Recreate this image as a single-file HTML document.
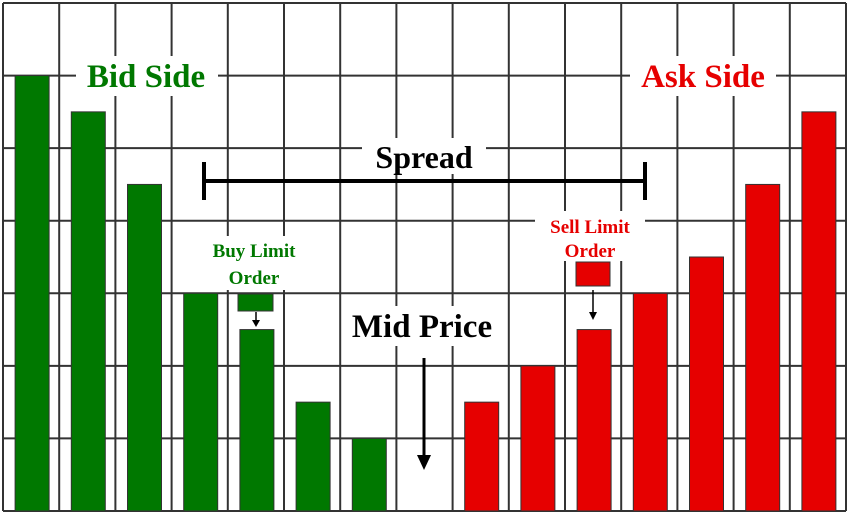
<!DOCTYPE html>
<html><head><meta charset="utf-8"><style>
body{margin:0;background:#fff}
svg{display:block;font-family:"Liberation Serif",serif;font-weight:bold}
</style></head><body>
<svg width="850" height="514" viewBox="0 0 850 514">
<g id="grid"></g>
<g id="bars"></g>
<g>
<rect x="76" y="56" width="142" height="40" fill="#fff"/>
<text x="146" y="87" text-anchor="middle" font-size="33" fill="#007800">Bid Side</text>
<rect x="630" y="56" width="146" height="40" fill="#fff"/>
<text x="703" y="87" text-anchor="middle" font-size="33" fill="#e60000">Ask Side</text>
<rect x="362" y="138" width="124" height="36" fill="#fff"/>
<text x="424" y="168" text-anchor="middle" font-size="32" fill="#000">Spread</text>
<g stroke="#000" stroke-width="4">
<line x1="204" y1="181" x2="645" y2="181"/><line x1="204" y1="162" x2="204" y2="200"/><line x1="645" y1="162" x2="645" y2="200"/></g>
<rect x="344" y="306" width="156" height="40" fill="#fff"/>
<text x="422" y="337" text-anchor="middle" font-size="33" fill="#000">Mid Price</text>
<line x1="424" y1="358" x2="424" y2="458" stroke="#000" stroke-width="3"/>
<polygon points="417,455 431,455 424,470" fill="#000"/>
<rect x="203" y="236" width="102" height="54" fill="#fff"/>
<text x="254" y="257" text-anchor="middle" font-size="19" fill="#007800">Buy Limit</text>
<text x="254" y="284" text-anchor="middle" font-size="19" fill="#007800">Order</text>
<rect x="238" y="294" width="35" height="17" fill="#007800" stroke="#333" stroke-width="1"/>
<line x1="256" y1="312" x2="256" y2="322" stroke="#000" stroke-width="1.5"/>
<polygon points="252,320 260,320 256,327" fill="#000"/>
<rect x="535" y="211" width="110" height="50" fill="#fff"/>
<text x="590" y="233" text-anchor="middle" font-size="19" fill="#e60000">Sell Limit</text>
<text x="590" y="257" text-anchor="middle" font-size="19" fill="#e60000">Order</text>
<rect x="576" y="262" width="34" height="24" fill="#e60000" stroke="#333" stroke-width="1"/>
<line x1="593" y1="290" x2="593" y2="313" stroke="#000" stroke-width="1.5"/>
<polygon points="589,312 597,312 593,320" fill="#000"/>
</g>
</svg>
<script>
const bidValues=[6,5.5,4.5,3,2.5,1.5,1];
const askValues=[1.5,2,2.5,3,3.5,4.5,5.5];
const x0=3,x1=846,y0=3,y1=511,nCols=15,nRows=7;
const colW=(x1-x0)/nCols,rowH=(y1-y0)/nRows;
function xCol(i){return x0+colW*(i+0.5);}
function yVal(v){return y1-v*rowH;}
const NS="http://www.w3.org/2000/svg";
const grid=document.getElementById('grid');
for(let i=0;i<=nCols;i++){const l=document.createElementNS(NS,'line');


const x=x0+i*colW;l.setAttribute('x1',x);l.setAttribute('x2',x);l.setAttribute('y1',y0);l.setAttribute('y2',y1);
l.setAttribute('stroke','#333');l.setAttribute('stroke-width','2');grid.appendChild(l);}
for(let j=0;j<=nRows;j++){const l=document.createElementNS(NS,'line');


const y=y0+j*rowH;l.setAttribute('y1',y);l.setAttribute('y2',y);l.setAttribute('x1',x0);l.setAttribute('x2',x1);
l.setAttribute('stroke','#333');l.setAttribute('stroke-width','2');grid.appendChild(l);}
const bars=document.getElementById('bars');
function bar(i,v,c,name){const r=document.createElementNS(NS,'rect');


const w=34;r.setAttribute('x',xCol(i)-w/2+1);r.setAttribute('width',w);
r.setAttribute('y',yVal(v));r.setAttribute('height',y1-yVal(v));
r.setAttribute('fill',c);r.setAttribute('stroke','#333');r.setAttribute('stroke-width','1');bars.appendChild(r);}
bidValues.forEach((v,i)=>bar(i,v,'#007800','bid-bar'));
askValues.forEach((v,i)=>bar(8+i,v,'#e60000','ask-bar'));
</script>
</body></html>
